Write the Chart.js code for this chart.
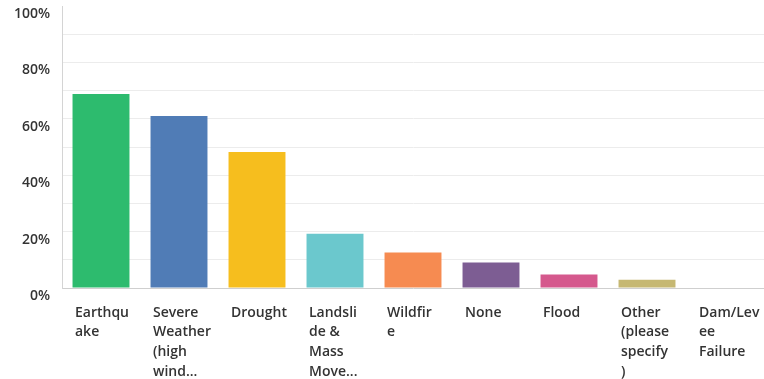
<!DOCTYPE html>
<html>
<head>
<meta charset="utf-8">
<script src="https://cdn.jsdelivr.net/npm/chart.js@4"></script>
<style>
    html, body { margin: 0; padding: 0; background: #fff; }
    #wrap { width: 764px; height: 379px; }
</style>
</head>
<body>
<div id="wrap"><canvas id="chart"></canvas></div>
<script>
// Categories (already wrapped the way the source chart wraps them)
const categories = [
    ['Earthqu', 'ake'],
    ['Severe', 'Weather', '(high', 'wind...'],
    ['Drought'],
    ['Landsli', 'de &', 'Mass', 'Move...'],
    ['Wildfir', 'e'],
    ['None'],
    ['Flood'],
    ['Other', '(please', 'specify', ')'],
    ['Dam/Lev', 'ee', 'Failure']
];
const responses = [68.8, 61.0, 48.2, 19.2, 12.6, 9.0, 4.8, 2.9, 0];
const barColors = ['#2dbb6e', '#507cb6', '#f6be1e', '#6bc8cd', '#f68b51', '#7d5d93', '#d5598d', '#c6b873', '#a0a0a0'];
const tickLabels = ['0%', '20%', '40%', '60%', '80%', '100%'];

const textColor = '#333';
const font = { family: 'Open Sans', size: 14, weight: '600', lineHeight: 1.4 };

new Chart(document.getElementById('chart'), {
    type: 'bar',
    data: {
        labels: categories,
        datasets: [{
            data: responses,
            backgroundColor: barColors,
            borderWidth: 0,
            barPercentage: 0.73,
            categoryPercentage: 1
        }]
    },
    options: {
        responsive: true,
        maintainAspectRatio: false,
        animation: false,
        layout: { padding: { top: 6, left: 0, right: 0, bottom: 0 } },
        plugins: {
            legend: { display: false },
            tooltip: { enabled: false }
        },
        scales: {
            y: {
                min: 0,
                max: 100,
                afterFit: function(scale) {
                    scale.width = 62;
                    scale.paddingTop = 0;
                    scale.paddingBottom = 0;
                },
                ticks: {
                    stepSize: 10,
                    padding: 12,
                    labelOffset: 8,
                    color: textColor,
                    font: font,
                    callback: function(v) {
                        return v % 20 === 0 ? tickLabels[v / 20] : '';
                    }
                },
                grid: {
                    drawTicks: false,
                    color: function(ctx) {
                        if (ctx.tick.value === 100) return 'rgba(0,0,0,0)';
                        if (ctx.tick.value === 0) return '#cfcfcf';
                        return '#ececec';
                    }
                },
                border: { display: true, color: '#d4d4d4' }
            },
            x: {
                afterFit: function(scale) {
                    scale.height = 91;
                    scale.paddingLeft = 0;
                    scale.paddingRight = 0;
                },
                ticks: {
                    align: 'start',
                    labelOffset: -26,
                    padding: 15,
                    maxRotation: 0,
                    autoSkip: false,
                    color: textColor,
                    font: font
                },
                grid: { display: false, drawTicks: false },
                border: { display: false }
            }
        }
    }
});
</script>
</body>
</html>
